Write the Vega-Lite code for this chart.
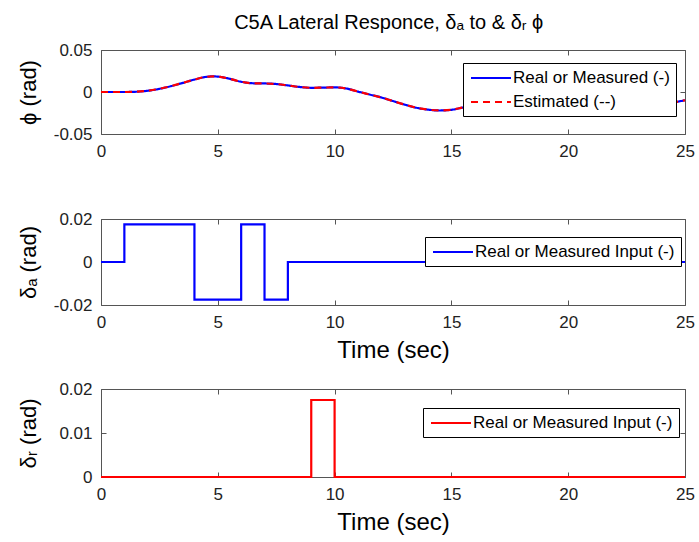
{
  "$schema": "https://vega.github.io/schema/vega-lite/v6.json",
  "background": "white",
  "padding": {"left": 16, "top": 12, "right": 5, "bottom": 5},
  "title": {"text": "C5A Lateral Responce, δₐ to & δᵣ ϕ", "fontSize": 20, "fontWeight": "normal", "font": "Liberation Sans", "color": "#000000", "anchor": "middle", "offset": 8, "dx": 33},
  "config": {
    "font": "Liberation Sans",
    "view": {"stroke": "#555555", "strokeWidth": 1},
    "concat": {"spacing": 16},
    "axis": {"grid": false, "domain": false, "tickSize": -5, "tickColor": "#555555", "labelFontSize": 17, "labelColor": "#222222", "labelPadding": 14, "labelFlush": false, "titleFontSize": 22, "titleFontWeight": "normal", "titleColor": "#000000", "labelFont": "Liberation Sans", "titleFont": "Liberation Sans"},
    "legend": {"orient": "none", "title": null, "fillColor": "white", "strokeColor": "#000000", "padding": 6, "labelFontSize": 17, "labelColor": "#000000", "labelFont": "Liberation Sans", "labelLimit": 400, "symbolType": "M-2.5,0H2.5", "symbolSize": 256, "symbolStrokeWidth": 2, "symbolOffset": 13, "rowPadding": 7, "labelOffset": 13}
  },
  "datasets": {
    "phi": [
      {"t": 0, "v": 0}, {"t": 0.5, "v": 0}, {"t": 1, "v": 0}, {"t": 1.5, "v": 0.0003},
      {"t": 2, "v": 0.0015}, {"t": 2.5, "v": 0.0038}, {"t": 3, "v": 0.007}, {"t": 3.5, "v": 0.0108},
      {"t": 4, "v": 0.0148}, {"t": 4.5, "v": 0.018}, {"t": 4.8, "v": 0.0186}, {"t": 5.1, "v": 0.018},
      {"t": 5.5, "v": 0.0158}, {"t": 6, "v": 0.0122}, {"t": 6.5, "v": 0.0104}, {"t": 7, "v": 0.0102},
      {"t": 7.5, "v": 0.0095}, {"t": 8, "v": 0.0078}, {"t": 8.5, "v": 0.006}, {"t": 9, "v": 0.005},
      {"t": 9.5, "v": 0.0052}, {"t": 10, "v": 0.0055}, {"t": 10.5, "v": 0.0042}, {"t": 11, "v": 0.0005},
      {"t": 11.5, "v": -0.003}, {"t": 12, "v": -0.0065}, {"t": 12.5, "v": -0.0108}, {"t": 13, "v": -0.015},
      {"t": 13.5, "v": -0.0187}, {"t": 14, "v": -0.021}, {"t": 14.5, "v": -0.022}, {"t": 15, "v": -0.0212},
      {"t": 15.5, "v": -0.0185}, {"t": 16, "v": -0.0165}, {"t": 17, "v": -0.0155}, {"t": 18, "v": -0.015},
      {"t": 19, "v": -0.0148}, {"t": 20, "v": -0.0145}, {"t": 21, "v": -0.0143}, {"t": 22, "v": -0.014},
      {"t": 23, "v": -0.0137}, {"t": 24, "v": -0.0132}, {"t": 24.5, "v": -0.0122}, {"t": 25, "v": -0.0098}
    ],
    "da": [
      {"o": 1, "t": 0, "v": 0}, {"o": 2, "t": 1, "v": 0}, {"o": 3, "t": 1, "v": 0.0175}, {"o": 4, "t": 4, "v": 0.0175},
      {"o": 5, "t": 4, "v": -0.0175}, {"o": 6, "t": 6, "v": -0.0175}, {"o": 7, "t": 6, "v": 0.0175}, {"o": 8, "t": 7, "v": 0.0175},
      {"o": 9, "t": 7, "v": -0.0175}, {"o": 10, "t": 8, "v": -0.0175}, {"o": 11, "t": 8, "v": 0}, {"o": 12, "t": 25, "v": 0}
    ],
    "dr": [
      {"o": 1, "t": 0, "v": 0}, {"o": 2, "t": 9, "v": 0}, {"o": 3, "t": 9, "v": 0.0175}, {"o": 4, "t": 10, "v": 0.0175},
      {"o": 5, "t": 10, "v": 0}, {"o": 6, "t": 25, "v": 0}
    ]
  },
  "resolve": {"scale": {"color": "independent", "strokeDash": "independent", "y": "independent"}, "legend": {"color": "independent", "strokeDash": "independent"}},
  "vconcat": [
    {
      "width": 584, "height": 84,
      "data": {"name": "phi"},
      "resolve": {"axis": {"x": "independent", "y": "independent"}},
      "layer": [
        {
          "mark": {"type": "line", "strokeWidth": 2.2, "interpolate": "monotone"},
          "encoding": {
            "x": {"field": "t", "type": "quantitative", "scale": {"domain": [0, 25], "nice": false}, "axis": {"values": [0, 5, 10, 15, 20, 25], "title": " ", "titleFontSize": 24, "titlePadding": 9}},
            "y": {"field": "v", "type": "quantitative", "scale": {"domain": [-0.05, 0.05], "nice": false}, "axis": {"values": [-0.05, 0, 0.05], "labelExpr": "'' + datum.value", "title": "ϕ (rad)", "titleX": -73, "titleBaseline": "middle"}},
            "color": {"datum": "Real or Measured (-)", "scale": {"domain": ["Real or Measured (-)", "Estimated (--)"], "range": ["#0000ff", "#ff0000"]}, "legend": {"legendX": 362, "legendY": 13}},
            "strokeDash": {"datum": "Real or Measured (-)", "scale": {"domain": ["Real or Measured (-)", "Estimated (--)"], "range": [[1, 0], [7, 5]]}, "legend": {"legendX": 362, "legendY": 13}}
          }
        },
        {
          "mark": {"type": "line", "strokeWidth": 2.2, "interpolate": "monotone"},
          "encoding": {
            "x": {"field": "t", "type": "quantitative", "axis": {"orient": "top", "values": [0, 5, 10, 15, 20, 25], "labels": false, "title": null}},
            "y": {"field": "v", "type": "quantitative", "axis": {"orient": "right", "values": [-0.05, 0, 0.05], "labels": false, "title": null}},
            "color": {"datum": "Estimated (--)"},
            "strokeDash": {"datum": "Estimated (--)"}
          }
        }
      ]
    },
    {
      "width": 584, "height": 86,
      "data": {"name": "da"},
      "resolve": {"axis": {"x": "independent", "y": "independent"}},
      "layer": [
        {
          "mark": {"type": "line", "opacity": 0},
          "encoding": {
            "x": {"field": "t", "type": "quantitative", "scale": {"domain": [0, 25], "nice": false}, "axis": {"orient": "top", "values": [0, 5, 10, 15, 20, 25], "labels": false, "title": null}},
            "y": {"field": "v", "type": "quantitative", "scale": {"domain": [-0.02, 0.02], "nice": false}, "axis": {"orient": "right", "values": [-0.02, 0, 0.02], "labels": false, "title": null}},
            "order": {"field": "o", "type": "quantitative"}
          }
        },
        {
          "mark": {"type": "line", "strokeWidth": 2.2},
          "encoding": {
            "x": {"field": "t", "type": "quantitative", "axis": {"values": [0, 5, 10, 15, 20, 25], "title": "Time (sec)", "titleFontSize": 24, "titlePadding": 8}},
            "y": {"field": "v", "type": "quantitative", "axis": {"values": [-0.02, 0, 0.02], "labelExpr": "'' + datum.value", "title": "δₐ (rad)", "titleX": -73, "titleBaseline": "middle"}},
            "order": {"field": "o", "type": "quantitative"},
            "color": {"datum": "Real or Measured Input (-)", "scale": {"domain": ["Real or Measured Input (-)"], "range": ["#0000ff"]}, "legend": {"legendX": 324, "legendY": 18}}
          }
        }
      ]
    },
    {
      "width": 584, "height": 88,
      "data": {"name": "dr"},
      "resolve": {"axis": {"x": "independent", "y": "independent"}},
      "layer": [
        {
          "mark": {"type": "line", "opacity": 0},
          "encoding": {
            "x": {"field": "t", "type": "quantitative", "scale": {"domain": [0, 25], "nice": false}, "axis": {"orient": "top", "values": [0, 5, 10, 15, 20, 25], "labels": false, "title": null}},
            "y": {"field": "v", "type": "quantitative", "scale": {"domain": [0, 0.02], "nice": false}, "axis": {"orient": "right", "values": [0, 0.01, 0.02], "labels": false, "title": null}},
            "order": {"field": "o", "type": "quantitative"}
          }
        },
        {
          "mark": {"type": "line", "strokeWidth": 2.2},
          "encoding": {
            "x": {"field": "t", "type": "quantitative", "axis": {"values": [0, 5, 10, 15, 20, 25], "title": "Time (sec)", "titleFontSize": 24, "titlePadding": 8}},
            "y": {"field": "v", "type": "quantitative", "axis": {"values": [0, 0.01, 0.02], "labelExpr": "'' + datum.value", "title": "δᵣ (rad)", "titleX": -73, "titleBaseline": "middle"}},
            "order": {"field": "o", "type": "quantitative"},
            "color": {"datum": "Real or Measured Input (-)", "scale": {"domain": ["Real or Measured Input (-)"], "range": ["#ff0000"]}, "legend": {"legendX": 322, "legendY": 19}}
          }
        }
      ]
    }
  ]
}
